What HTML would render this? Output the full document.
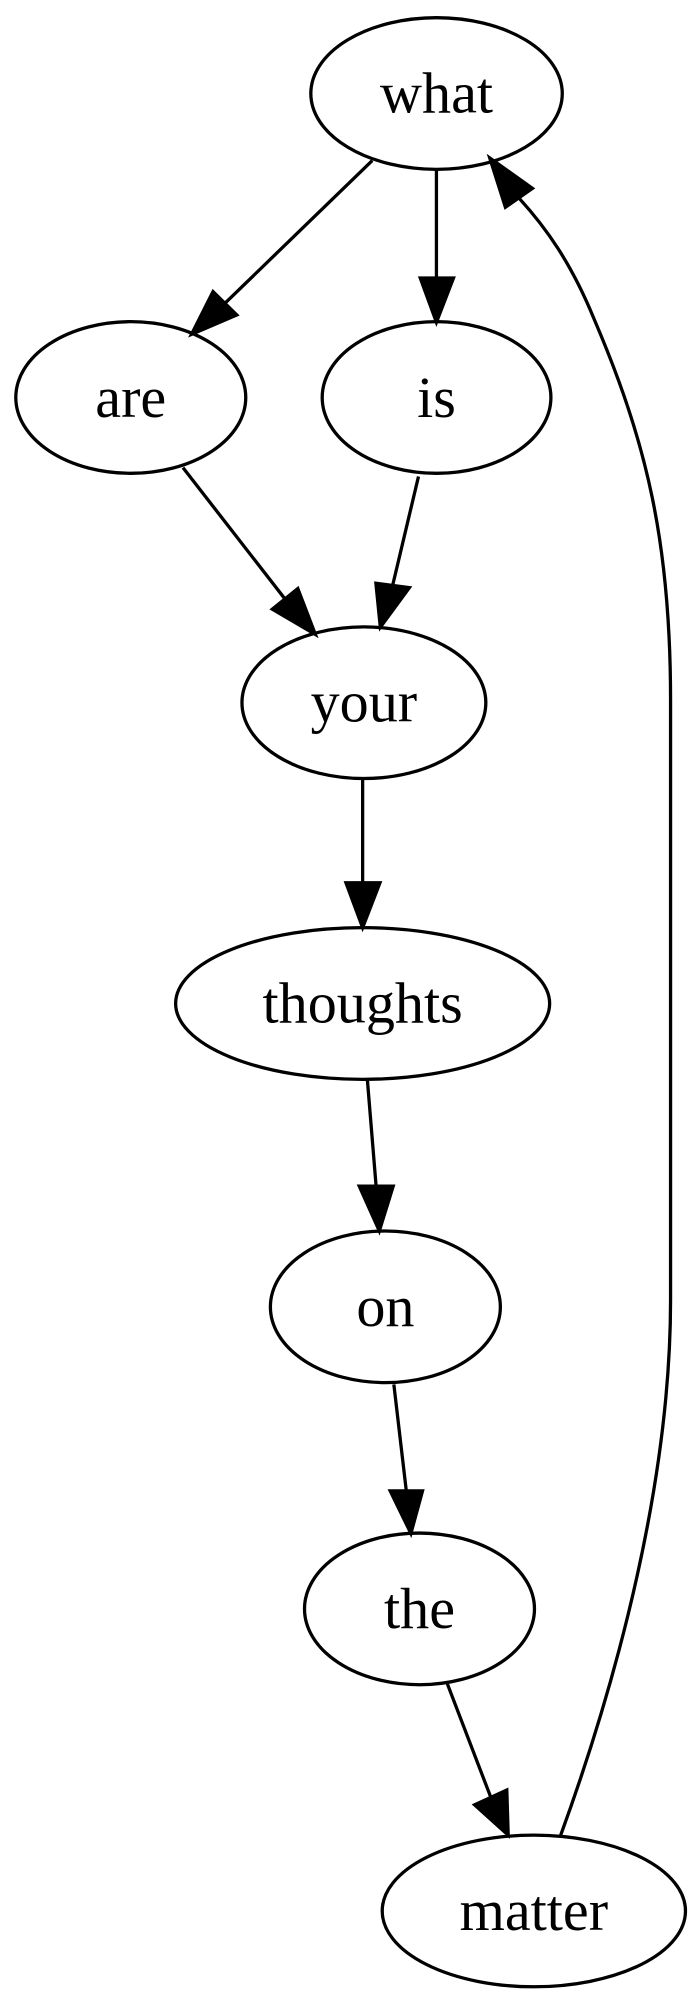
<!DOCTYPE html>
<html><head><style>html,body{margin:0;padding:0;background:#fff;}svg{display:block;}</style></head>
<body>
<svg width="700" height="2007" viewBox="0 0 554 1588" preserveAspectRatio="none" xmlns="http://www.w3.org/2000/svg">
<g fill="none" stroke="#000" stroke-width="2.6">
<ellipse cx="345.5" cy="74" rx="99.5" ry="60"/>
<ellipse cx="103.5" cy="314.5" rx="91" ry="60"/>
<ellipse cx="345.5" cy="314.5" rx="90.5" ry="60"/>
<ellipse cx="288" cy="556" rx="96.5" ry="60"/>
<ellipse cx="287" cy="794" rx="148" ry="60"/>
<ellipse cx="305" cy="1034" rx="91" ry="60"/>
<ellipse cx="332" cy="1273" rx="91" ry="60"/>
<ellipse cx="422.5" cy="1512" rx="120" ry="60"/>
<path d="M294.6,127 L178,240"/>
<path d="M345.4,134 L345.4,221"/>
<path d="M144.8,370 L225.6,474"/>
<path d="M331.2,377 L310.8,463"/>
<path d="M287,616 L287,699"/>
<path d="M290.7,853.7 L297.7,939"/>
<path d="M311.7,1095.4 L321.6,1180"/>
<path d="M354,1332.2 L388.4,1422"/>
<path d="M443.7,1452.2 C470,1380 530.7,1200 530.7,1028.7 L530.7,553.8 C530.7,430 512,350 470,252 C452,208 432,180 411,157"/>
</g>
<g fill="#000" stroke="#000" stroke-width="2.6">
<polygon points="151.6,264.5 168.6,230.7 187.4,249.2"/>
<polygon points="345.4,255 332.6,220 358.9,220"/>
<polygon points="249.6,502 215.5,482 235.7,465.7"/>
<polygon points="301,496.3 297.5,461.5 324,465"/>
<polygon points="287,734 273.8,698.5 300.7,698.5"/>
<polygon points="300.2,974 284.3,938.5 311.2,938.5"/>
<polygon points="325.2,1213.3 308.8,1179.6 334.4,1179.6"/>
<polygon points="402.2,1452 375.6,1428 401.1,1416.3"/>
<polygon points="387.6,125 400,164 421.4,149"/>
</g>
<g font-family="'Liberation Serif', serif" font-size="46" text-anchor="middle" fill="#000">
<text x="345.5" y="89">what</text>
<text x="103.5" y="330">are</text>
<text x="345.5" y="330">is</text>
<text x="288" y="571">your</text>
<text x="287" y="809">thoughts</text>
<text x="305" y="1049">on</text>
<text x="332" y="1288">the</text>
<text x="422.5" y="1527">matter</text>
</g>
</svg>
</body></html>
